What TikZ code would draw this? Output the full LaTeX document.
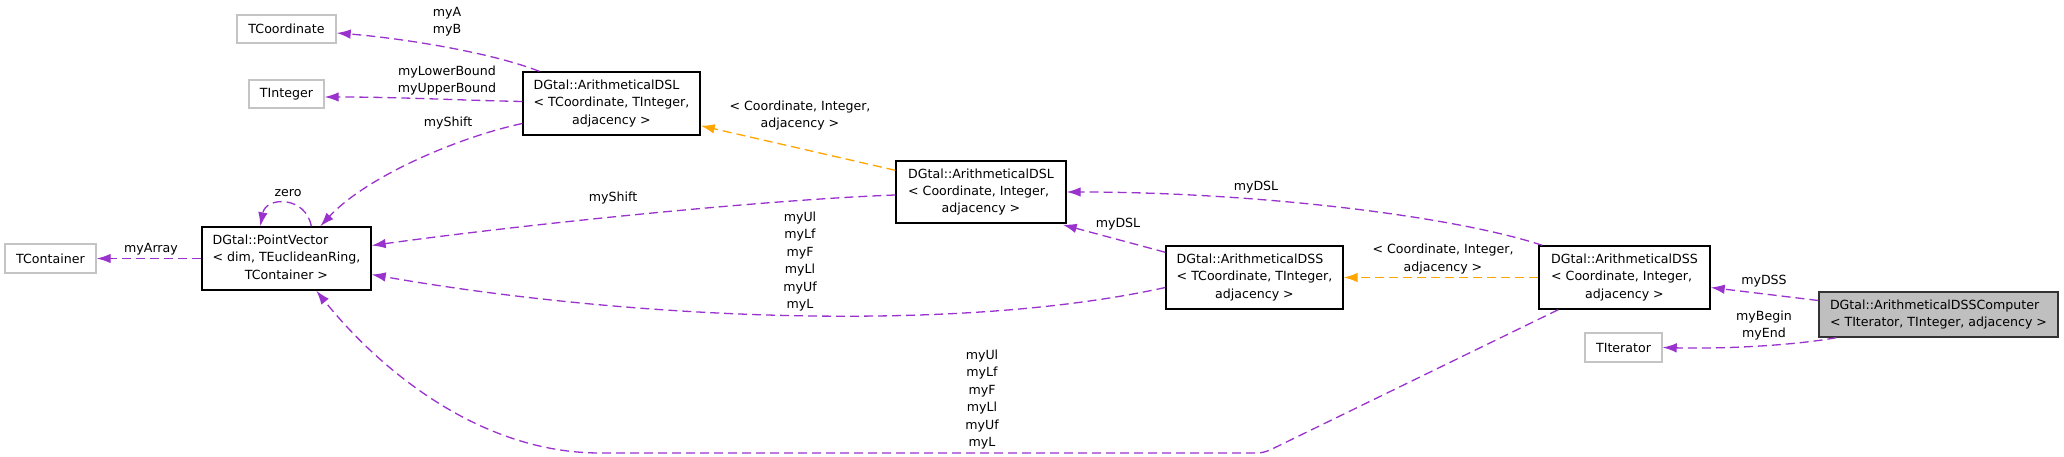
\documentclass[tikz,border=0pt]{standalone}
\usepackage{fontspec}
\setmainfont{DejaVu Sans}
\usetikzlibrary{arrows.meta,calc}
\definecolor{edgepurple}{HTML}{9A32CD}
\definecolor{edgeorange}{HTML}{FFA500}
\definecolor{extgray}{HTML}{C4C4C4}
\definecolor{curgray}{HTML}{BFBFBF}
\begin{document}
\begin{tikzpicture}[x=1pt,y=-1pt,
  every node/.style={font=\fontsize{12.6}{17.4}\selectfont},
  cls/.style={draw=black, line width=1.4pt, fill=white, inner sep=0pt},
  ext/.style={draw=extgray, line width=1.4pt, fill=white, inner sep=0pt},
  cur/.style={draw=black!80, line width=1.4pt, fill=curgray, inner sep=0pt},
  uses/.style={draw=edgepurple, line width=1.3pt, dash pattern=on 9pt off 5pt, -{Latex[length=14pt,width=9.5pt]}},
  inst/.style={draw=edgeorange, line width=1.3pt, dash pattern=on 9pt off 5pt, -{Latex[length=14pt,width=9.5pt]}},
  lbl/.style={align=center, inner sep=0pt},
]
\useasboundingbox[fill=white] (0,0) rectangle (2064,457);

% nodes
\node[ext, minimum width=99pt, minimum height=28pt] (tcoord) at (286.5,29) {TCoordinate};
\node[ext, minimum width=75pt, minimum height=28pt] (tinteger) at (286.5,94) {TInteger};
\node[ext, minimum width=91pt, minimum height=29pt] (tcontainer) at (50.5,258.5) {TContainer};
\node[ext, minimum width=77pt, minimum height=29pt] (titerator) at (1623.5,347.5) {TIterator};

\node[cls, minimum width=177pt, minimum height=63pt] (dslt) at (611.5,103.5)
  {\begin{tabular}{@{}l@{}}DGtal::ArithmeticalDSL\\< TCoordinate, TInteger,\\\multicolumn{1}{@{}c@{}}{adjacency >}\end{tabular}};
\node[cls, minimum width=170pt, minimum height=62pt] (dslc) at (981,192)
  {\begin{tabular}{@{}l@{}}DGtal::ArithmeticalDSL\\< Coordinate, Integer,\\\multicolumn{1}{@{}c@{}}{adjacency >}\end{tabular}};
\node[cls, minimum width=177pt, minimum height=63pt] (dsst) at (1254.5,277.5)
  {\begin{tabular}{@{}l@{}}DGtal::ArithmeticalDSS\\< TCoordinate, TInteger,\\\multicolumn{1}{@{}c@{}}{adjacency >}\end{tabular}};
\node[cls, minimum width=171pt, minimum height=63pt] (dssc) at (1624.5,277.5)
  {\begin{tabular}{@{}l@{}}DGtal::ArithmeticalDSS\\< Coordinate, Integer,\\\multicolumn{1}{@{}c@{}}{adjacency >}\end{tabular}};
\node[cur, minimum width=239pt, minimum height=45pt] (comp) at (1938.5,314.5)
  {\begin{tabular}{@{}l@{}}DGtal::ArithmeticalDSSComputer\\< TIterator, TInteger, adjacency >\end{tabular}};
\node[cls, minimum width=169pt, minimum height=63pt] (pv) at (286.5,258.5)
  {\begin{tabular}{@{}l@{}}DGtal::PointVector\\< dim, TEuclideanRing,\\\multicolumn{1}{@{}c@{}}{TContainer >}\end{tabular}};

% edges
\draw[uses] ($(dslt.north west)+(17,0)$) .. controls (490,52) and (400,38) .. ($(tcoord.east)+(0,4)$);
\draw[uses] ($(dslt.west)+(0,-2)$) .. controls (450,100) and (400,97) .. ($(tinteger.east)+(0,3)$);
\draw[uses] ($(dslt.west)+(0,20)$) .. controls (455,138) and (365,178) .. ($(pv.north west)+(119,0)$);
\draw[uses] ($(pv.north west)+(110,0)$) .. controls (306,196) and (266,196) .. ($(pv.north west)+(59,0)$);
\draw[uses] (pv.west) -- (tcontainer.east);
\draw[uses] ($(dslc.west)+(0,3)$) .. controls (760,200) and (520,225) .. ($(pv.east)+(0,-13)$);
\draw[uses] ($(dsst.west)+(0,10)$) .. controls (950,335) and (620,318) .. ($(pv.east)+(0,16)$);
\draw[uses] ($(dssc.south west)+(20,0)$) -- (1270,450) .. controls (1262,453) .. (1250,453) -- (600,453) .. controls (480,453) and (380,370) .. ($(pv.south west)+(115,0)$);
\draw[inst] ($(dslc.north west)+(0,10)$) -- ($(dslt.south east)+(0,-10)$);
\draw[uses] ($(dsst.north west)+(0,7)$) -- ($(dslc.south east)+(-4,1)$);
\draw[uses] ($(dssc.north west)+(4,0)$) .. controls (1450,215) and (1250,192) .. (dslc.east);
\draw[inst] (dssc.west) -- (dsst.east);
\draw[uses] ($(comp.west)+(0,-14)$) -- ($(dssc.east)+(0,10)$);
\draw[uses] ($(comp.south west)+(18,0)$) .. controls (1790,346) and (1720,349) .. (titerator.east);

% labels
\node[lbl] (lab1) at (447,22) {myA\\myB};
\node[lbl] (lab2) at (447,80.5) {myLowerBound\\myUpperBound};
\node[lbl] (lab3) at (448,123) {myShift};
\node[lbl] (lab4) at (288,193) {zero};
\node[lbl] (lab5) at (151,249) {myArray};
\node[lbl] (lab6) at (613,198) {myShift};
\node[lbl] (lab7) at (800,261.5) {myUl\\myLf\\myF\\myLl\\myUf\\myL};
\node[lbl] (lab8) at (982,399.5) {myUl\\myLf\\myF\\myLl\\myUf\\myL};
\node[lbl] (lab9) at (800,115.5) {< Coordinate, Integer,\\adjacency >};
\node[lbl] (lab10) at (1256,187) {myDSL};
\node[lbl] (lab11) at (1118,224) {myDSL};
\node[lbl] (lab12) at (1443,259) {< Coordinate, Integer,\\adjacency >};
\node[lbl] (lab13) at (1764,281) {myDSS};
\node[lbl] (lab14) at (1764,325.5) {myBegin\\myEnd};
\end{tikzpicture}
\end{document}
